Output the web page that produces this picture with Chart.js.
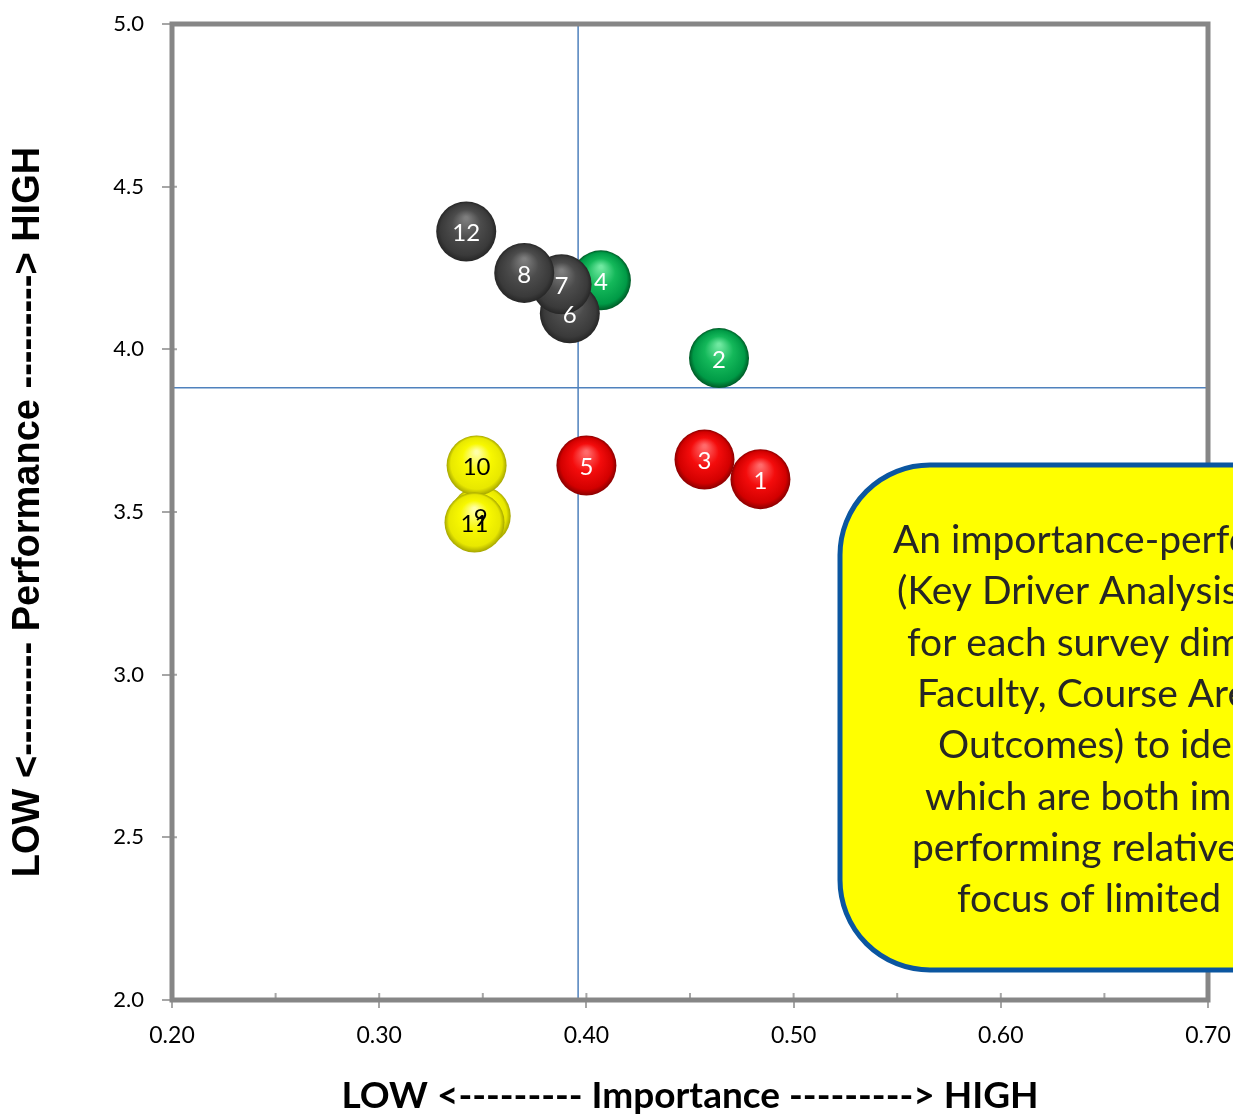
<!DOCTYPE html>
<html>
<head>
<meta charset="utf-8">
<title>Key Driver Analysis</title>
<script src="https://cdn.jsdelivr.net/npm/chart.js@4.4.1/dist/chart.umd.min.js"></script>
<style>
  html, body { margin: 0; padding: 0; background: #fff; }
  #wrap { width: 1233px; height: 1115px; position: relative; }
</style>
</head>
<body>
<div id="wrap"><canvas id="kdaChart"></canvas></div>
<script>
// survey dimensions, numbered as printed on the bubbles
const itemLabels  = ['1', '2', '3', '4', '5', '6', '7', '8', '9', '10', '11', '12'];
const importance  = [0.484, 0.464, 0.457, 0.407, 0.400, 0.392, 0.388, 0.370, 0.349, 0.347, 0.346, 0.342];
const performance = [3.601, 3.973, 3.661, 4.212, 3.643, 4.111, 4.200, 4.235, 3.488, 3.643, 3.468, 4.362];
const quadrant    = ['red', 'green', 'red', 'green', 'red', 'gray', 'gray', 'gray', 'yellow', 'yellow', 'yellow', 'gray'];

// averages that split the plot into quadrants
const meanImportance  = 0.396;
const meanPerformance = 3.882;

const xTicks = [0.20, 0.30, 0.40, 0.50, 0.60, 0.70];
const yTicks = [2.0, 2.5, 3.0, 3.5, 4.0, 4.5, 5.0];

const noteLines = [
  'An importance-performance analysis',
  '(Key Driver Analysis) was conducted',
  'for each survey dimension (e.g.,',
  'Faculty, Course Area, Learning',
  'Outcomes) to identify attributes',
  'which are both important and low-',
  'performing relatively, to guide the',
  'focus of limited resources.'
];
// left edge of each centred line inside the callout
const noteIndent = [893, 897, 907, 917, 938, 925, 912, 957];

const BUBBLE_R = 30;

// light spot, body, shade, rim
const sphereColours = {
  gray:   ['#7e7e7e', '#4c4c4c', '#3a3a3a', '#262626'],
  green:  ['#6fe8a0', '#14b85a', '#009a46', '#005a26'],
  red:    ['#ff6a6a', '#f40c0c', '#d20000', '#8a0000'],
  yellow: ['#ffffa8', '#f8f800', '#e8e800', '#a6a600']
};

function sphereFill(context) {
  const pal = sphereColours[quadrant[context.dataIndex]];
  if (!pal) return '#777';
  const chart = context.chart;
  if (context.type !== 'data' || !chart.chartArea) return pal[1];
  const px = chart.scales.x.getPixelForValue(context.raw.x);
  const py = chart.scales.y.getPixelForValue(context.raw.y);
  const r = BUBBLE_R;
  const g = chart.ctx.createRadialGradient(px, py - r * 0.45, r * 0.05, px, py, r);
  g.addColorStop(0, pal[0]);
  g.addColorStop(0.45, pal[1]);
  g.addColorStop(0.85, pal[2]);
  g.addColorStop(1, pal[3]);
  return g;
}

// fixed axis box sizes, no extra room for overhanging end labels
function fixBox(size) {
  return s => {
    if (s.isHorizontal()) s.height = size; else s.width = size;
    s.paddingTop = s.paddingBottom = s.paddingLeft = s.paddingRight = 0;
  };
}

// mean lines, inner tick marks and the heavy plot frame
const frameAndGuides = {
  id: 'frameAndGuides',
  beforeDatasetsDraw(chart) {
    const {ctx, chartArea: a, scales: {x, y}} = chart;
    ctx.save();

    const mx = x.getPixelForValue(meanImportance);
    const my = y.getPixelForValue(meanPerformance);
    ctx.strokeStyle = '#4f81bd';
    ctx.lineWidth = 1.5;
    ctx.beginPath();
    ctx.moveTo(mx, a.top);
    ctx.lineTo(mx, a.bottom);
    ctx.moveTo(a.left, my);
    ctx.lineTo(a.right, my);
    ctx.stroke();

    ctx.strokeStyle = '#a6a6a6';
    ctx.lineWidth = 2;
    ctx.beginPath();
    for (let i = 0; i < xTicks.length; i++) {
      const px = x.getPixelForValue(xTicks[i]);
      ctx.moveTo(px, a.bottom);
      ctx.lineTo(px, a.bottom - 7);
      if (i < xTicks.length - 1) {
        const mid = x.getPixelForValue((xTicks[i] + xTicks[i + 1]) / 2);
        ctx.moveTo(mid, a.bottom);
        ctx.lineTo(mid, a.bottom - 7);
      }
    }
    yTicks.forEach(v => {
      const py = y.getPixelForValue(v);
      ctx.moveTo(a.left, py);
      ctx.lineTo(a.left + 5, py);
    });
    ctx.stroke();

    ctx.strokeStyle = '#868686';
    ctx.lineWidth = 5;
    ctx.strokeRect(a.left, a.top, a.right - a.left, a.bottom - a.top);
    ctx.restore();
  }
};

// numbers on top of every bubble
const bubbleNumbers = {
  id: 'bubbleNumbers',
  afterDatasetsDraw(chart) {
    const ctx = chart.ctx;
    const meta = chart.getDatasetMeta(0);
    ctx.save();
    ctx.font = '24px Lato';
    ctx.textAlign = 'center';
    ctx.textBaseline = 'middle';
    meta.data.forEach((pt, i) => {
      ctx.fillStyle = quadrant[i] === 'yellow' ? '#000' : '#fff';
      ctx.fillText(itemLabels[i], pt.x, pt.y + 2);
    });
    ctx.restore();
  }
};

// yellow callout box running off the right edge
const noteBox = {
  id: 'noteBox',
  afterDraw(chart) {
    const ctx = chart.ctx;
    const left = 840, top = 465, right = 1400, bottom = 970, rad = 90;
    ctx.save();
    ctx.beginPath();
    ctx.moveTo(left + rad, top);
    ctx.lineTo(right - rad, top);
    ctx.arcTo(right, top, right, top + rad, rad);
    ctx.lineTo(right, bottom - rad);
    ctx.arcTo(right, bottom, right - rad, bottom, rad);
    ctx.lineTo(left + rad, bottom);
    ctx.arcTo(left, bottom, left, bottom - rad, rad);
    ctx.lineTo(left, top + rad);
    ctx.arcTo(left, top, left + rad, top, rad);
    ctx.closePath();
    ctx.fillStyle = '#ffff00';
    ctx.fill();
    ctx.strokeStyle = '#0b56a0';
    ctx.lineWidth = 5;
    ctx.stroke();

    ctx.fillStyle = '#262626';
    ctx.font = '39px Lato';
    ctx.textAlign = 'left';
    ctx.textBaseline = 'alphabetic';
    noteLines.forEach((line, i) => {
      ctx.fillText(line, noteIndent[i], 553 + i * 51.3);
    });
    ctx.restore();
  }
};

const points = importance.map((v, i) => ({x: v, y: performance[i]}));

new Chart(document.getElementById('kdaChart'), {
  type: 'bubble',
  data: {
    datasets: [{
      label: 'Survey dimensions',
      data: points,
      radius: BUBBLE_R,
      borderWidth: 0,
      backgroundColor: sphereFill
    }]
  },
  options: {
    responsive: true,
    maintainAspectRatio: false,
    animation: false,
    events: [],
    layout: { autoPadding: false, padding: { top: 24, right: 25, bottom: 0, left: 0 } },
    plugins: {
      legend: { display: false },
      tooltip: { enabled: false }
    },
    scales: {
      x: {
        type: 'linear',
        min: 0.2,
        max: 0.7,
        afterBuildTicks: s => { s.ticks = xTicks.map(v => ({value: v})); },
        afterFit: fixBox(115),
        border: { display: false },
        grid: { drawOnChartArea: false, tickLength: 8, color: '#a6a6a6', lineWidth: 2 },
        ticks: {
          padding: 14,
          color: '#000',
          font: { family: 'Lato', size: 23 },
          callback: v => Number(v).toFixed(2)
        },
        title: {
          display: true,
          text: 'LOW <--------- Importance ---------> HIGH',
          color: '#000',
          font: { family: 'Lato', size: 37, weight: 'bold', lineHeight: 1 },
          padding: { top: 0, bottom: 0 }
        }
      },
      y: {
        type: 'linear',
        min: 2,
        max: 5,
        afterBuildTicks: s => { s.ticks = yTicks.map(v => ({value: v})); },
        afterFit: fixBox(172),
        border: { display: false },
        grid: { drawOnChartArea: false, tickLength: 10, color: '#a6a6a6', lineWidth: 2 },
        ticks: {
          padding: 18,
          color: '#000',
          font: { family: 'Lato', size: 22 },
          callback: v => Number(v).toFixed(1)
        },
        title: {
          display: true,
          text: 'LOW <--------- Performance ---------> HIGH',
          color: '#000',
          font: { family: 'Liberation Sans', size: 38, weight: 'bold', lineHeight: 1 },
          padding: { top: 10, bottom: 0 }
        }
      }
    }
  },
  plugins: [frameAndGuides, bubbleNumbers, noteBox]
});
</script>
</body>
</html>
